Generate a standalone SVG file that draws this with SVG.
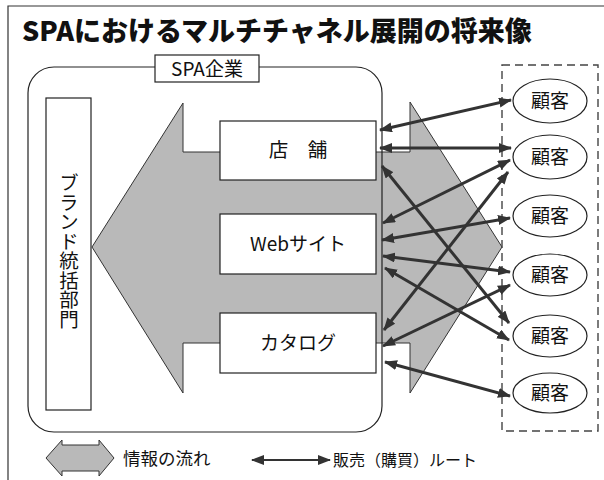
<svg xmlns="http://www.w3.org/2000/svg" width="604" height="480" viewBox="0 0 604 480">
<defs>
<style>
.t{font-family:"Noto Sans CJK JP","Noto Sans",sans-serif;fill:#111}
.box{fill:#fff;stroke:#222;stroke-width:1.2}
.gray{fill:#b9b9b9;stroke:#333;stroke-width:1}
.cust{fill:#fff;stroke:#222;stroke-width:1.2}
.route{stroke:#333;stroke-width:3;fill:none;marker-start:url(#ah);marker-end:url(#ah)}
</style>
<marker id="ah" viewBox="0 0 13 10" refX="12" refY="5" markerWidth="13" markerHeight="10" markerUnits="userSpaceOnUse" orient="auto-start-reverse">
<path d="M0,0 L13,5 L0,10 z" fill="#333"/>
</marker>
</defs>
<rect width="604" height="480" fill="#fff"/>
<path d="M8,480 L8,6 L604,6" fill="none" stroke="#333" stroke-width="1.2"/>
<text class="t" x="22" y="41" font-size="27" font-weight="900">SPAにおけるマルチチャネル展開の将来像</text>

<g id="info-flow">
<polygon class="gray" points="92,247 183,103 183,152 410,152 410,102 502,247 410,393 410,343 183,343 183,393"/>
</g>

<g id="spa">
<rect x="28" y="67" width="354" height="365" rx="26" ry="26" fill="none" stroke="#222" stroke-width="1.2"/>
<rect class="box" x="155" y="55" width="104" height="27"/>
<text class="t" x="207" y="76" font-size="19" text-anchor="middle">SPA企業</text>
</g>

<g id="brand">
<rect class="box" x="46" y="98" width="45" height="312"/>
<text class="t" x="69" y="251" font-size="19.5" text-anchor="middle" style="writing-mode:vertical-rl">ブランド統括部門</text>
</g>

<g id="store">
<rect class="box" x="220" y="121" width="156" height="59"/>
<text class="t" x="298" y="157" font-size="19.5" text-anchor="middle">店　舗</text>
</g>
<g id="web">
<rect class="box" x="220" y="214" width="156" height="60"/>
<text class="t" x="298" y="251" font-size="19" text-anchor="middle">Webサイト</text>
</g>
<g id="catalog">
<rect class="box" x="220" y="313" width="156" height="60"/>
<text class="t" x="298" y="350" font-size="19" text-anchor="middle">カタログ</text>
</g>

<g id="customers">
<rect x="502" y="65" width="96" height="366" fill="none" stroke="#444" stroke-width="1.4" stroke-dasharray="8,5"/>
</g>
<g id="c1"><ellipse class="cust" cx="550" cy="101" rx="37" ry="22"/><text class="t" x="550" y="108" font-size="19" text-anchor="middle">顧客</text></g>
<g id="c2"><ellipse class="cust" cx="550" cy="157" rx="37" ry="22"/><text class="t" x="550" y="164" font-size="19" text-anchor="middle">顧客</text></g>
<g id="c3"><ellipse class="cust" cx="550" cy="216" rx="37" ry="21"/><text class="t" x="550" y="223" font-size="19" text-anchor="middle">顧客</text></g>
<g id="c4"><ellipse class="cust" cx="550" cy="275" rx="37" ry="21"/><text class="t" x="550" y="282" font-size="19" text-anchor="middle">顧客</text></g>
<g id="c5"><ellipse class="cust" cx="550" cy="336" rx="37" ry="21"/><text class="t" x="550" y="343" font-size="19" text-anchor="middle">顧客</text></g>
<g id="c6"><ellipse class="cust" cx="550" cy="393" rx="37" ry="20"/><text class="t" x="550" y="400" font-size="19" text-anchor="middle">顧客</text></g>

<g id="connectors">
<line class="route" x1="380" y1="130" x2="511" y2="100"/>
<line class="route" x1="380" y1="148" x2="511" y2="148"/>
<line class="route" x1="382" y1="166" x2="509" y2="323"/>
<line class="route" x1="383" y1="223" x2="510" y2="160"/>
<line class="route" x1="382" y1="240" x2="510" y2="218"/>
<line class="route" x1="383" y1="256" x2="510" y2="272"/>
<line class="route" x1="385" y1="268" x2="509" y2="340"/>
<line class="route" x1="384" y1="330" x2="508" y2="172"/>
<line class="route" x1="383" y1="346" x2="510" y2="285"/>
<line class="route" x1="385" y1="362" x2="510" y2="396"/>
</g>

<g id="legend">
<polygon class="gray" points="46,458 62,440 62,445 99,445 99,440 114,458 99,476 99,471 62,471 62,476"/>
<text class="t" x="123" y="465" font-size="17.5">情報の流れ</text>
<line x1="252" y1="460" x2="330" y2="460" stroke="#333" stroke-width="2" marker-start="url(#ah)" marker-end="url(#ah)"/>
<text class="t" x="333" y="466" font-size="16">販売（購買）ルート</text>
</g>
</svg>
